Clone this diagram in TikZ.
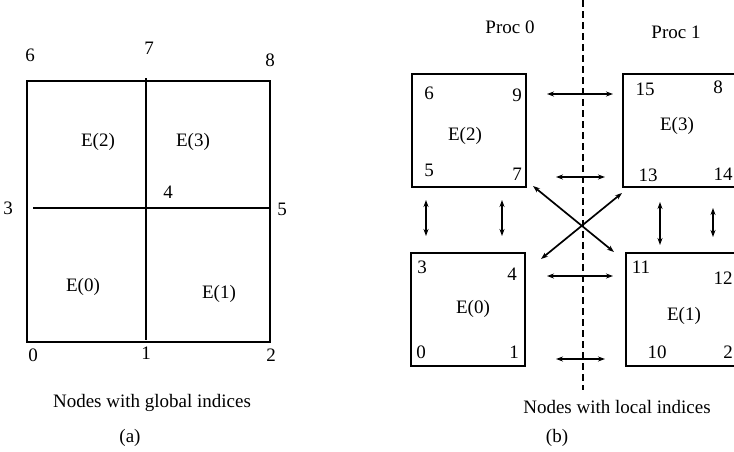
\documentclass[tikz,border=0pt]{standalone}
\usepackage{fontspec}
\setmainfont{Liberation Serif}
\usetikzlibrary{arrows.meta}
\begin{document}
\begin{tikzpicture}[x=1pt,y=-1pt,
  lbl/.style={inner sep=0pt,font=\fontsize{19}{21}\selectfont},
  ebox/.style={draw,line width=1.3pt,minimum width=114pt,minimum height=113pt,inner sep=0pt},
  mesh/.style={line width=1.3pt},
  dbl/.style={line width=1.3pt,{Stealth[length=7pt,width=5pt]}-{Stealth[length=7pt,width=5pt]}},
  cross/.style={dbl,line width=1.7pt},
  divider/.style={line width=1.1pt,dash pattern=on 7pt off 4pt}]
\clip (0,0) rectangle (734,451);
\useasboundingbox (0,0) rectangle (734,451);
% ---- (a) ----
\node[draw,mesh,minimum width=243pt,minimum height=261pt,inner sep=0pt] (sq) at (148.5,211.5) {};
\coordinate (vt) at (146,78);
\coordinate (vb) at (146,340);
\coordinate (hl) at (33,208);
\coordinate (hr) at (270,208);
\draw[mesh] (vt) -- (vb);
\draw[mesh] (hl) -- (hr);
\node[lbl] (g6) at (30,55) {6};
\node[lbl] (g7) at (149,48) {7};
\node[lbl] (g8) at (270,60) {8};
\node[lbl] (g3) at (8,208) {3};
\node[lbl] (g4) at (168,192) {4};
\node[lbl] (g5) at (282,209) {5};
\node[lbl] (g0) at (33,355) {0};
\node[lbl] (g1) at (146,353) {1};
\node[lbl] (g2) at (271,355) {2};
\node[lbl] (ga2) at (98,142) {E(2)};
\node[lbl] (ga3) at (193,142) {E(3)};
\node[lbl] (ga0) at (83,287) {E(0)};
\node[lbl] (ga1) at (219,294) {E(1)};
\node[lbl] (capa) at (152,403) {Nodes with global indices};
\node[lbl] (laba) at (130,438) {(a)};
% ---- (b) ----
\coordinate (dtop) at (583,0);
\coordinate (dbot) at (583,390);
\draw[divider] (dtop) -- (dbot);
\node[lbl] (p0) at (510,27) {Proc 0};
\node[lbl] (p1) at (676,32) {Proc 1};
\node[ebox] (b2) at (469,130.5) {};
\node[ebox] (b3) at (680,130.5) {};
\node[ebox] (b0) at (468,309.5) {};
\node[ebox] (b1) at (683,309.5) {};
% labels E2
\node[lbl] (l6) at (429,93) {6};
\node[lbl] (l9) at (517,95) {9};
\node[lbl] (le2) at (465,136) {E(2)};
\node[lbl] (l5) at (429,170) {5};
\node[lbl] (l7) at (517,174) {7};
% labels E3
\node[lbl] (l15) at (645,89) {15};
\node[lbl] (l8) at (718,87) {8};
\node[lbl] (le3) at (677,126) {E(3)};
\node[lbl] (l13) at (648,175) {13};
\node[lbl] (l14) at (723,174) {14};
% labels E0
\node[lbl] (l3) at (422,267) {3};
\node[lbl] (l4) at (512,274) {4};
\node[lbl] (le0) at (473,309) {E(0)};
\node[lbl] (l0) at (421,352) {0};
\node[lbl] (l1) at (514,352) {1};
% labels E1
\node[lbl] (l11) at (641,267) {11};
\node[lbl] (l12) at (723,278) {12};
\node[lbl] (le1) at (684,316) {E(1)};
\node[lbl] (l10) at (657,352) {10};
\node[lbl] (l2) at (728,352) {2};
% horizontal exchange arrows
\coordinate (h1a) at (547,94);  \coordinate (h1b) at (613,94);
\coordinate (h2a) at (556,177); \coordinate (h2b) at (605,177);
\coordinate (h3a) at (547,276); \coordinate (h3b) at (613,276);
\coordinate (h4a) at (556,359); \coordinate (h4b) at (605,359);
\draw[dbl] (h1a) -- (h1b);
\draw[dbl] (h2a) -- (h2b);
\draw[dbl] (h3a) -- (h3b);
\draw[dbl] (h4a) -- (h4b);
% crossing arrows
\coordinate (x1a) at (533,186); \coordinate (x1b) at (614,252);
\coordinate (x2a) at (541,259); \coordinate (x2b) at (622,193);
\draw[cross] (x1a) -- (x1b);
\draw[cross] (x2a) -- (x2b);
% vertical arrows
\coordinate (v1a) at (426,200); \coordinate (v1b) at (426,236);
\coordinate (v2a) at (502,200); \coordinate (v2b) at (502,236);
\coordinate (v3a) at (660,202); \coordinate (v3b) at (660,245);
\coordinate (v4a) at (713,208); \coordinate (v4b) at (713,237);
\draw[dbl] (v1a) -- (v1b);
\draw[dbl] (v2a) -- (v2b);
\draw[dbl] (v3a) -- (v3b);
\draw[dbl] (v4a) -- (v4b);
\node[lbl] (capb) at (617,407) {Nodes with local indices};
\node[lbl] (labb) at (557,438) {(b)};
\end{tikzpicture}
\end{document}
